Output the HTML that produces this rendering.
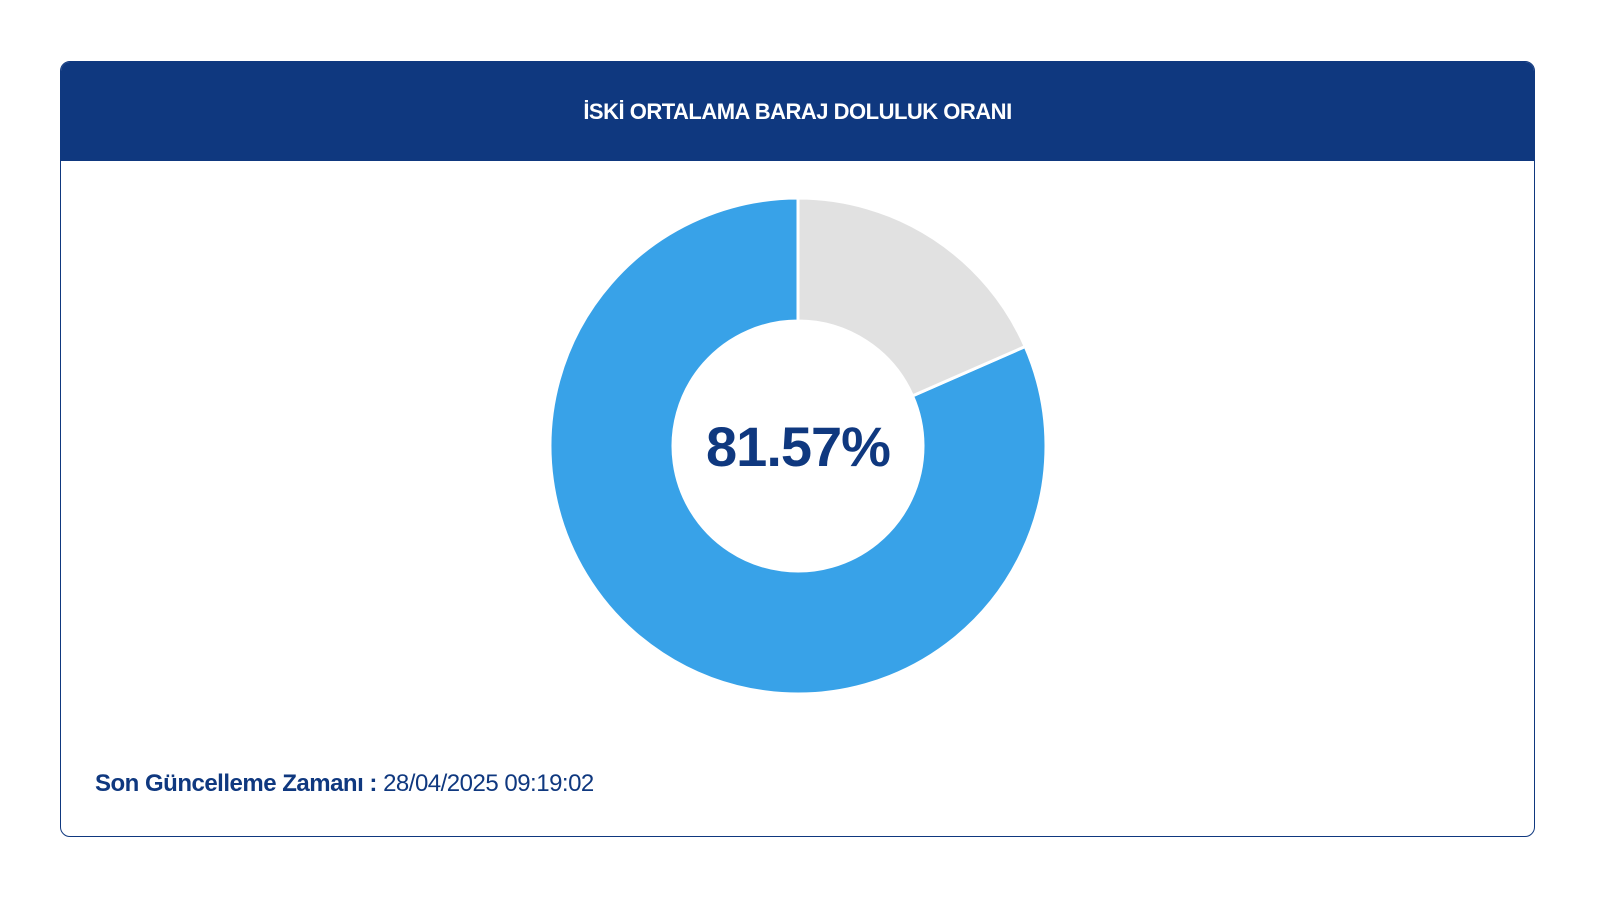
<!DOCTYPE html>
<html><head><meta charset="utf-8"><style>
body{margin:0;width:1600px;height:900px;background:#fff;font-family:"Liberation Sans",sans-serif;overflow:hidden;position:relative}
#card{position:absolute;left:60px;top:61px;width:1475px;height:776px;border:1.5px solid #0f387f;border-radius:10px;overflow:hidden;box-sizing:border-box}
#hdr{height:99px;background:#0f387f;color:#fff;font-weight:bold;font-size:22px;display:flex;align-items:center;justify-content:center;letter-spacing:-0.5px}
#foot{position:absolute;left:34px;top:708px;font-size:24px;color:#0f387f;letter-spacing:-0.5px}
svg{position:absolute;left:0;top:0}
</style></head><body>
<div id="card">
<div id="hdr">İSKİ ORTALAMA BARAJ DOLULUK ORANI</div>
<div id="foot"><b>Son Güncelleme Zamanı :</b> 28/04/2025 09:19:02</div>
</div>
<svg width="1600" height="900" id="chart"></svg>
<script>
const labels=["Dolu","Boş"];
const values=[81.57,18.43];
const colors=["#38a2e8","#e1e1e1"];
const cx=798,cy=446,R=248,r=125;
const svg=document.getElementById('chart');
const NS="http://www.w3.org/2000/svg";
const total=values.reduce((a,b)=>a+b,0);
function pt(a,rad){return [cx+rad*Math.sin(a),cy-rad*Math.cos(a)];}
// blue filled portion drawn counter-clockwise from top; gray goes clockwise from top
let start=-values[0]/total*2*Math.PI;
values.forEach((v,i)=>{
 const a0=start,a1=start+v/total*2*Math.PI;start=a1;
 const large=(a1-a0)>Math.PI?1:0;
 const [x0,y0]=pt(a0,R),[x1,y1]=pt(a1,R),[x2,y2]=pt(a1,r),[x3,y3]=pt(a0,r);
 const p=document.createElementNS(NS,'path');
 p.setAttribute('d',`M${x0},${y0}A${R},${R} 0 ${large} 1 ${x1},${y1}L${x2},${y2}A${r},${r} 0 ${large} 0 ${x3},${y3}Z`);
 p.setAttribute('fill',colors[i]);p.setAttribute('stroke','#fff');p.setAttribute('stroke-width','3');
 
 
 svg.appendChild(p);
});
const t=document.createElementNS(NS,'text');
t.setAttribute('x',cx);t.setAttribute('y',cy+20);t.setAttribute('text-anchor','middle');
t.setAttribute('font-size','56');t.setAttribute('font-weight','bold');t.setAttribute('fill','#0f387f');
t.setAttribute('font-family','Liberation Sans, sans-serif');t.setAttribute('letter-spacing','-1');
t.textContent=values[0].toFixed(2)+'%';


svg.appendChild(t);
</script>
</body></html>
